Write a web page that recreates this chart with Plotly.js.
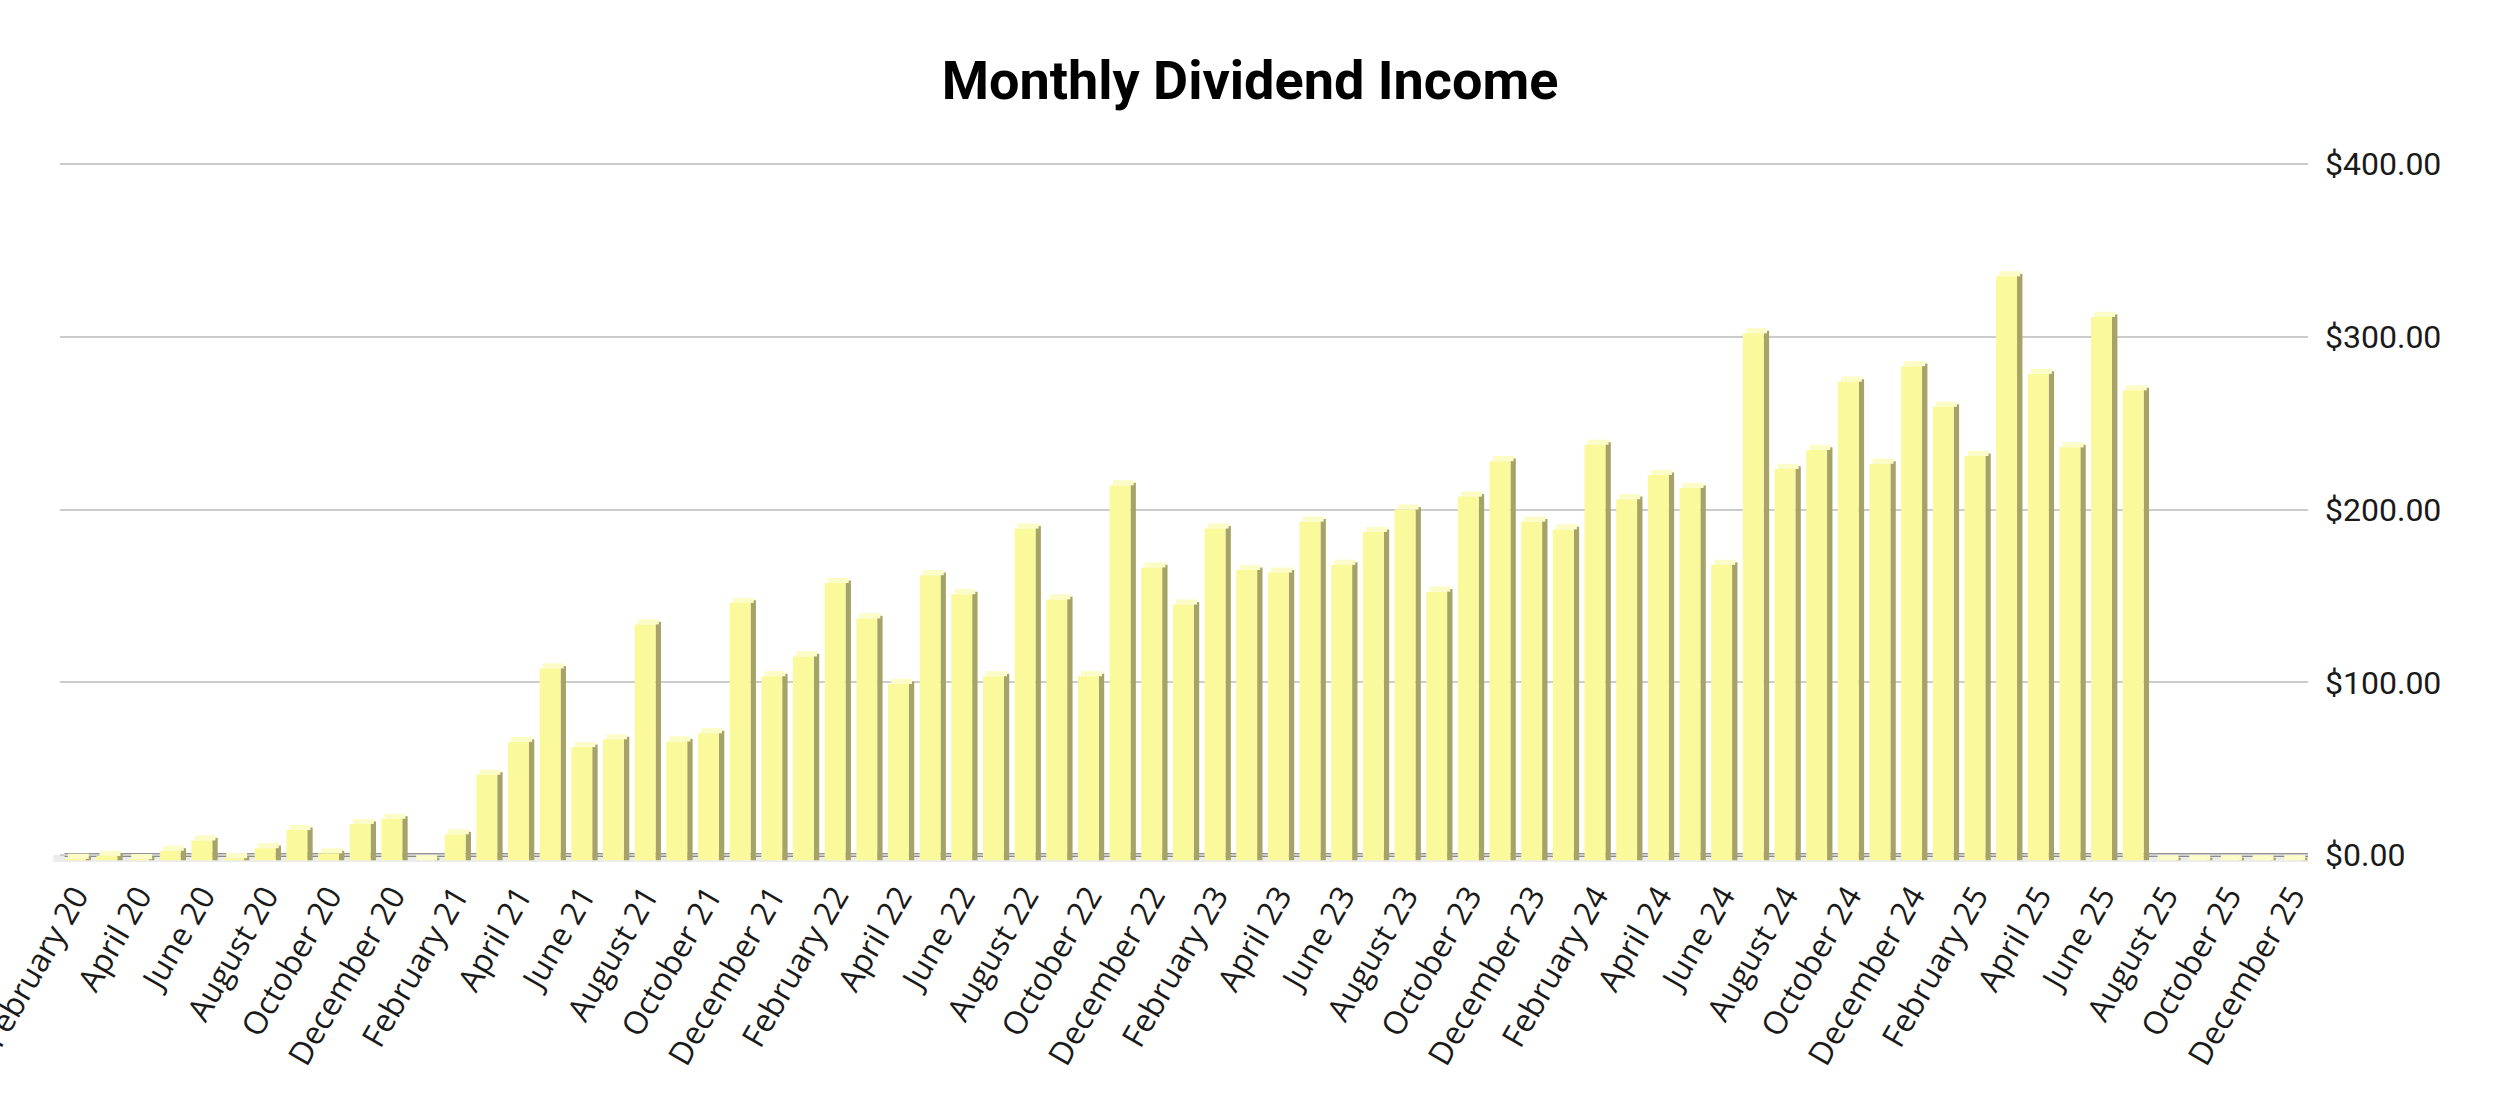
<!DOCTYPE html>
<html>
<head>
<meta charset="utf-8">
<script src="https://cdn.plot.ly/plotly-3.0.1.min.js"></script>
<style>
  html, body { margin: 0; padding: 0; background: #ffffff; }
  #chart { width: 2500px; height: 1109px; }
</style>
</head>
<body>
<div id="chart"></div>
<script>
// ---- Data ----
const months = [
  "February 20","March 20","April 20","May 20","June 20","July 20","August 20","September 20","October 20","November 20","December 20",
  "January 21","February 21","March 21","April 21","May 21","June 21","July 21","August 21","September 21","October 21","November 21","December 21",
  "January 22","February 22","March 22","April 22","May 22","June 22","July 22","August 22","September 22","October 22","November 22","December 22",
  "January 23","February 23","March 23","April 23","May 23","June 23","July 23","August 23","September 23","October 23","November 23","December 23",
  "January 24","February 24","March 24","April 24","May 24","June 24","July 24","August 24","September 24","October 24","November 24","December 24",
  "January 25","February 25","March 25","April 25","May 25","June 25","July 25","August 25","September 25","October 25","November 25","December 25"
];

const dividends = [
  0.8, 2.5, 0.6, 5.5, 11.5, 1.2, 7, 17.5, 4, 21, 24,
  0, 15, 49.5, 68.5, 111, 65.5, 70, 136.5, 68.8, 73.5, 149, 106.5,
  118, 160.5, 140, 102, 165, 154, 106.5, 192, 151, 106.5, 217, 169.5,
  148, 192, 168, 166.5, 196, 171, 190, 203, 155.5, 210.5, 231, 196,
  191.5, 240.5, 209, 223, 215.5, 171, 305, 226.5, 237.5, 277, 229.5, 286,
  262.5, 234, 338, 281.5, 239, 314.5, 272, 0, 0, 0, 0, 0
];

// x tick labels: every other month, starting with the first
const tickMonths = months.filter((m, i) => i % 2 === 0);

// y tick values and their labels
const yTicks = [0, 100, 200, 300, 400];
const yTickText = ["$0.00", "$100.00", "$200.00", "$300.00", "$400.00"];

// ---- Styling (3D column look) ----
const DEPTH = 3;                 // apparent depth of the 3D bars, in axis units
const FRONT = "rgb(250,249,156)";
const SIDE  = "rgb(166,163,104)";
const TOP   = "rgb(252,252,200)";

const sideTrace = {
  type: "bar",
  x: months,
  y: dividends.map(v => v + DEPTH / 2),
  base: -DEPTH,
  offset: 0.31,
  width: 0.17,
  marker: { color: SIDE, line: { width: 0 } },
  hoverinfo: "skip",
  showlegend: false
};

const topTrace = {
  type: "bar",
  x: months,
  y: dividends.map(() => DEPTH),
  base: dividends.map(v => v - DEPTH),
  offset: -0.25,
  width: 0.66,
  marker: { color: TOP, line: { width: 0 } },
  hoverinfo: "skip",
  showlegend: false
};

const frontTrace = {
  type: "bar",
  x: months,
  y: dividends,
  base: -DEPTH,
  offset: -0.35,
  width: 0.66,
  marker: { color: FRONT, line: { width: 0 } },
  hovertemplate: "%{x}: $%{y:.2f}<extra></extra>",
  showlegend: false
};

const layout = {
  width: 2500,
  height: 1109,
  paper_bgcolor: "#ffffff",
  plot_bgcolor: "#ffffff",
  margin: { l: 60, r: 192, t: 163, b: 247, pad: 0 },
  barmode: "overlay",
  title: {
    text: "Monthly Dividend Income",
    font: { family: "Roboto, Arial, sans-serif", size: 54, weight: 700, color: "#000000" },
    x: 0.5, xanchor: "center",
    xref: "container",
    y: 0.928, yanchor: "middle", yref: "container"
  },
  xaxis: {
    type: "category",
    tickmode: "array",
    tickvals: tickMonths,
    ticktext: tickMonths,
    tickangle: -60,
    tickfont: { family: "Open Sans, Noto Sans, sans-serif", size: 32, color: "#1a1a1a" },
    showgrid: false,
    zeroline: false,
    showline: false,
    ticks: "",
    ticklabelstandoff: 8,
    automargin: false,
    fixedrange: true
  },
  yaxis: {
    side: "right",
    range: [-4, 400.6],
    tickmode: "array",
    tickvals: yTicks,
    ticktext: yTickText,
    tickfont: { family: "Roboto, Arial, sans-serif", size: 32, color: "#1a1a1a" },
    showgrid: true,
    gridcolor: "#cccccc",
    gridwidth: 2,
    zeroline: false,
    showline: false,
    ticks: "",
    ticklabelstandoff: 16,
    automargin: false,
    fixedrange: true
  },
  shapes: [
    // floor strip
    { type: "rect", xref: "paper", yref: "y", x0: -0.003, x1: 1, y0: -4, y1: 0,
      fillcolor: "#ececec", line: { width: 0 }, layer: "below" },
    // dark base line on the back wall
    { type: "line", xref: "paper", yref: "y", x0: 0.002, x1: 1, y0: 0, y1: 0,
      line: { color: "#2b2b2b", width: 3 }, layer: "below" }
  ]
};

Plotly.newPlot("chart", [sideTrace, topTrace, frontTrace], layout, { displayModeBar: false, staticPlot: true });
</script>
</body>
</html>
